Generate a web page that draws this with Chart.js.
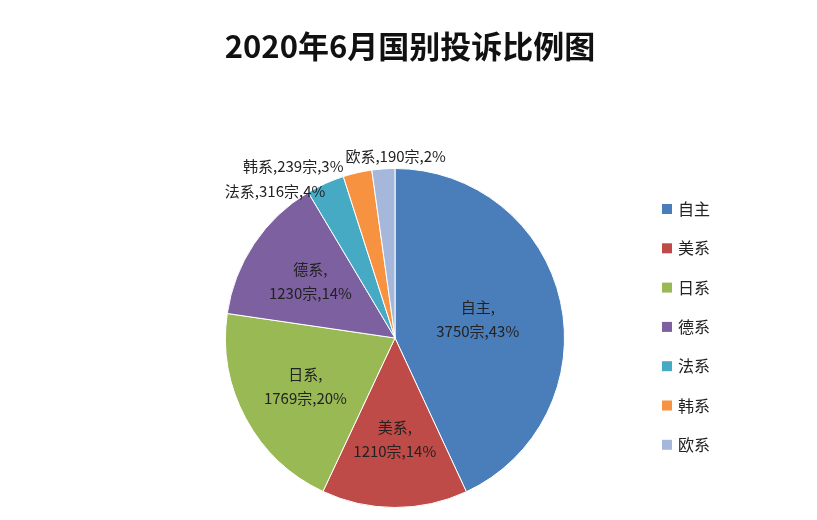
<!DOCTYPE html>
<html>
<head>
<meta charset="utf-8">
<script src="https://cdn.jsdelivr.net/npm/chart.js@4"></script>
<style>
    html, body { margin: 0; padding: 0; background: #fff; }
    #wrap { width: 817px; height: 520px; }
</style>
</head>
<body>
<div id="wrap"><canvas id="myChart" width="817" height="520"></canvas></div>
<script>
const categories = ['自主', '美系', '日系', '德系', '法系', '韩系', '欧系'];
const complaints = [3750, 1210, 1769, 1230, 316, 239, 190];
const percents = ['43%', '14%', '20%', '14%', '4%', '3%', '2%'];
const colors = ['#4A7EBB', '#BE4B48', '#98B954', '#7D60A0', '#46AAC5', '#F69240', '#A5B8DC'];
const titleText = '2020年6月国别投诉比例图';

const fontName = '"Noto Sans CJK SC", "Noto Sans", sans-serif';

const sliceLabels = {
    id: 'sliceLabels',
    afterDatasetsDraw(chart) {
        const ctx = chart.ctx;
        const arcs = chart.getDatasetMeta(0).data;
        ctx.save();
        ctx.fillStyle = '#222';
        ctx.font = '15px ' + fontName;
        ctx.textBaseline = 'middle';
        arcs.forEach(function (arc, i) {
            const mid = (arc.startAngle + arc.endAngle) / 2;
            const r = arc.outerRadius;
            const name = categories[i] + ',';
            const rest = complaints[i] + '宗,' + percents[i];
            if (i < 4) {
                const f = i === 0 ? 0.5 : 0.6;
                const x = arc.x + Math.cos(mid) * r * f;
                const y = arc.y + Math.sin(mid) * r * f;
                ctx.textAlign = 'center';
                ctx.fillText(name, x, y - 12);
                ctx.fillText(rest, x, y + 12);
            } else {
                const x = arc.x + Math.cos(mid) * r;
                const y = arc.y + Math.sin(mid) * r;
                const text = name + rest;
                if (i === 6) {
                    ctx.textAlign = 'left';
                    ctx.fillText(text, x - 38, y - 13);
                } else if (i === 5) {
                    ctx.textAlign = 'right';
                    ctx.fillText(text, x - 14, y - 6);
                } else {
                    ctx.textAlign = 'right';
                    ctx.fillText(text, x, y + 8);
                }
            }
        });

        // title
        ctx.textAlign = 'center';
        ctx.font = 'bold 31px ' + fontName;
        ctx.fillStyle = '#111';
        ctx.fillText(titleText, 410, 46);

        // legend
        ctx.font = '16px ' + fontName;
        ctx.textAlign = 'left';
        categories.forEach(function (c, i) {
            const y = 209 + i * 39.3;
            ctx.fillStyle = colors[i];
            ctx.fillRect(662, y - 5, 10, 10);
            ctx.fillStyle = '#222';
            ctx.fillText(c, 678, y);
        });
        ctx.restore();
    }
};

new Chart(document.getElementById('myChart'), {
    type: 'pie',
    data: {
        labels: categories,
        datasets: [{
            data: complaints,
            backgroundColor: colors,
            borderColor: '#fff',
            borderWidth: 1
        }]
    },
    options: {
        responsive: false,
        animation: false,
        layout: { padding: { left: 225, right: 252, top: 168, bottom: 12 } },
        plugins: {
            legend: { display: false },
            tooltip: { enabled: false }
        }
    },
    plugins: [sliceLabels]
});
</script>
</body>
</html>
